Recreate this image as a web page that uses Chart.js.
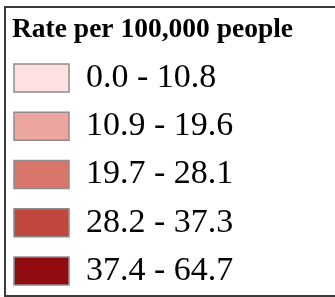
<!DOCTYPE html>
<html>
<head>
<meta charset="utf-8">
<script src="https://cdn.jsdelivr.net/npm/chart.js@4/dist/chart.umd.min.js"></script>
<style>
  html, body { margin: 0; padding: 0; background: #fff; overflow: hidden; width: 335px; height: 297px; }
  #frame { position: absolute; left: 4px; top: 6px; width: 420px; height: 291px; box-sizing: border-box; border: 2px solid #3a3a3a; }
  #wrap { position: absolute; left: 0; top: 0; width: 335px; height: 297px; }
</style>
</head>
<body>
<div id="frame"></div>
<div id="wrap"><canvas id="c" width="335" height="297"></canvas></div>
<script>
const legendTitle = 'Rate per 100,000 people';
const binLabels = ['0.0 - 10.8', '10.9 - 19.6', '19.7 - 28.1', '28.2 - 37.3', '37.4 - 64.7'];
const binColors = ['#fde0e1', '#eba79f', '#d8766b', '#c0473b', '#900c10'];
const swatchBorder = '#948a8a';
const serif = "'Liberation Serif', 'Times New Roman', serif";

const datasets = binLabels.map((lab, i) => ({
  label: lab,
  data: [],
  backgroundColor: binColors[i],
  borderColor: swatchBorder,
  borderWidth: 1.5
}));

new Chart(document.getElementById('c'), {
  type: 'bar',
  data: { labels: [''], datasets: datasets },
  options: {
    responsive: false,
    devicePixelRatio: 1,
    animation: false,
    layout: { padding: { left: 12, top: 16, right: 0, bottom: 0 } },
    scales: { x: { display: false }, y: { display: false } },
    plugins: {
      tooltip: { enabled: false },
      legend: {
        display: true,
        position: 'left',
        align: 'start',
        maxWidth: 323,
        onClick: () => {},
        title: {
          display: true,
          text: legendTitle,
          position: 'start',
          color: '#000',
          font: { family: serif, size: 27.5, weight: 'bold', lineHeight: 1.2 },
          padding: { top: 0, bottom: 10 }
        },
        labels: {
          boxWidth: 55,
          boxHeight: 28,
          padding: 2,
          color: '#000',
          font: { family: serif, size: 34, lineHeight: '46.25px' },
          generateLabels: (chart) => chart.data.datasets.map((ds, i) => ({
            text: [ds.label],
            fillStyle: ds.backgroundColor,
            strokeStyle: ds.borderColor,
            lineWidth: ds.borderWidth,
            hidden: false,
            datasetIndex: i
          }))
        }
      }
    }
  }
});
</script>
</body>
</html>
